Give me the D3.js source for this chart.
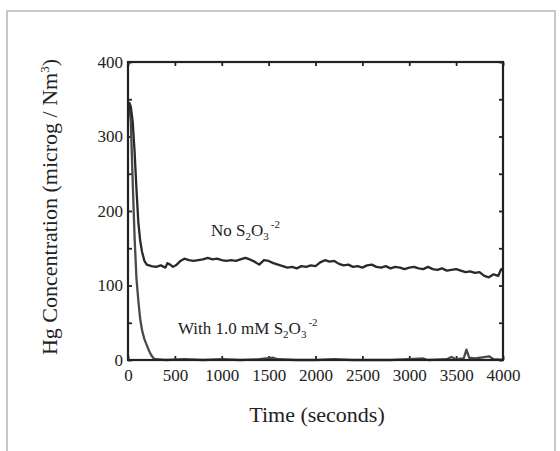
<!DOCTYPE html>
<html>
<head>
<meta charset="utf-8">
<script src="https://cdn.jsdelivr.net/npm/d3@7"></script>
<style>
  html, body { margin: 0; padding: 0; background: #ffffff; }
  svg { display: block; }
  text { font-family: "Liberation Serif", "Times New Roman", serif; fill: #222; }
</style>
</head>
<body>
<svg id="chart" width="560" height="451"></svg>
<script>
// Mercury concentration over time, without and with thiosulfate
const noThioTime = [0, 15, 30, 50, 70, 90, 110, 130, 150, 175, 200, 250, 300, 350, 400, 420, 450, 480, 520, 560,
  600, 650, 700, 750, 800, 850, 900, 950, 1000, 1050, 1100, 1150, 1200, 1250, 1300, 1350, 1400, 1450, 1500, 1550,
  1600, 1650, 1700, 1750, 1800, 1850, 1900, 1950, 2000, 2050, 2100, 2150, 2200, 2250, 2300, 2350, 2400, 2450, 2500,
  2550, 2600, 2650, 2700, 2750, 2800, 2850, 2900, 2950, 3000, 3050, 3100, 3150, 3200, 3250, 3300, 3350, 3400, 3450,
  3500, 3550, 3600, 3650, 3700, 3750, 3800, 3850, 3900, 3950, 3980, 4000];
const noThioHg = [330, 345, 340, 320, 280, 230, 185, 160, 145, 133, 128, 126, 125, 127, 124, 130, 128, 125, 128, 133,
  136, 134, 133, 134, 135, 137, 135, 136, 134, 133, 134, 133, 135, 137, 135, 132, 128, 134, 133, 130,
  128, 126, 124, 125, 123, 126, 125, 127, 126, 131, 134, 132, 133, 129, 127, 128, 125, 126, 124,
  127, 128, 125, 124, 126, 123, 125, 124, 122, 124, 125, 123, 122, 125, 122, 121, 123, 120, 121,
  122, 120, 118, 119, 117, 118, 113, 111, 115, 113, 122, 120];

const withThioTime = [0, 15, 30, 50, 70, 90, 110, 130, 150, 175, 200, 225, 250, 275, 300, 400, 600, 800, 1000, 1200,
  1400, 1550, 1600, 1800, 2000, 2200, 2400, 2600, 2800, 3000, 3150, 3200, 3400, 3450, 3500, 3580, 3610, 3640, 3700,
  3800, 3850, 3900, 4000];
const withThioHg = [330, 340, 320, 240, 165, 110, 80, 55, 40, 28, 20, 12, 6, 2, 1, 0, 1, 0, 1, 0,
  1, 3, 1, 0, 0, 1, 0, 0, 0, 1, 2, 0, 1, 4, 1, 2, 14, 3, 2,
  4, 5, 1, 0];

const xTicks = [0, 500, 1000, 1500, 2000, 2500, 3000, 3500, 4000];
const yTicks = [0, 50, 100, 150, 200, 250, 300, 350, 400];
const yLabelTicks = [0, 100, 200, 300, 400];

const svg = d3.select("#chart");
const plot = { left: 128, right: 503, top: 62, bottom: 360 };

// outer frame
svg.append("rect")
  .attr("x", 7).attr("y", 11)
  .attr("width", 548).attr("height", 450)
  .attr("fill", "#ffffff")
  .attr("stroke", "#c8c8c8")
  .attr("stroke-width", 2);

const x = d3.scaleLinear().domain([0, 4000]).range([plot.left, plot.right]);
const y = d3.scaleLinear().domain([0, 400]).range([plot.bottom, plot.top]);

const fmtY = d => yLabelTicks.includes(d) ? String(d) : "";

function styleAxis(g) {
  g.select(".domain").remove();
  g.selectAll(".tick line").attr("stroke", "#222").attr("stroke-width", 1.8);
  g.selectAll(".tick text").attr("font-size", 17).attr("fill", "#222")
    .style("font-family", '"Liberation Serif", serif');
}

// bottom axis with inward ticks
svg.append("g")
  .attr("transform", `translate(0,${plot.bottom})`)
  .call(d3.axisBottom(x).tickValues(xTicks).tickSize(-4).tickPadding(9).tickFormat(d3.format("d")))
  .call(styleAxis);

// top axis, ticks only
svg.append("g")
  .attr("transform", `translate(0,${plot.top})`)
  .call(d3.axisTop(x).tickValues(xTicks).tickSize(-4).tickFormat(""))
  .call(styleAxis);

// left axis
svg.append("g")
  .attr("transform", `translate(${plot.left},0)`)
  .call(d3.axisLeft(y).tickValues(yTicks).tickSize(-4).tickPadding(5).tickFormat(fmtY))
  .call(styleAxis);

// right axis, ticks only
svg.append("g")
  .attr("transform", `translate(${plot.right},0)`)
  .call(d3.axisRight(y).tickValues(yTicks).tickSize(-4).tickFormat(""))
  .call(styleAxis);

// data lines
const line = d3.line().x(d => x(d[0])).y(d => y(d[1]));

svg.append("path")
  .datum(withThioTime.map((t, i) => [t, withThioHg[i]]))
  .attr("fill", "none")
  .attr("stroke", "#4a4a4a")
  .attr("stroke-width", 2.3)
  .attr("stroke-linejoin", "round")
  .attr("d", line);

svg.append("path")
  .datum(noThioTime.map((t, i) => [t, noThioHg[i]]))
  .attr("fill", "none")
  .attr("stroke", "#2a2a2a")
  .attr("stroke-width", 2.3)
  .attr("stroke-linejoin", "round")
  .attr("d", line);

// plot box
svg.append("rect")
  .attr("x", plot.left).attr("y", plot.top)
  .attr("width", plot.right - plot.left).attr("height", plot.bottom - plot.top)
  .attr("fill", "none")
  .attr("stroke", "#222")
  .attr("stroke-width", 2.2);

// axis titles
svg.append("text")
  .attr("x", 317)
  .attr("y", 422)
  .attr("text-anchor", "middle")
  .attr("font-size", 22)
  .text("Time (seconds)");

const yTitle = svg.append("text")
  .attr("transform", `translate(57,207) rotate(-90)`)
  .attr("text-anchor", "middle")
  .attr("font-size", 22);
yTitle.append("tspan").text("Hg Concentration (microg / Nm");
yTitle.append("tspan").attr("dy", -8).attr("font-size", 13).text("3");
yTitle.append("tspan").attr("dy", 8).text(")");

// series annotations
function thioLabel(xPos, yPos, prefix) {
  const t = svg.append("text").attr("x", xPos).attr("y", yPos).attr("font-size", 17);
  t.append("tspan").text(prefix + "S");
  t.append("tspan").attr("dy", 4).attr("font-size", 11).text("2");
  t.append("tspan").attr("dy", -4).text("O");
  t.append("tspan").attr("dy", 4).attr("font-size", 11).text("3");
  t.append("tspan").attr("dy", -12).attr("dx", 2).attr("font-size", 11).text("-2");
}
thioLabel(211, 236, "No ");
thioLabel(178, 334, "With 1.0 mM ");
</script>
</body>
</html>
